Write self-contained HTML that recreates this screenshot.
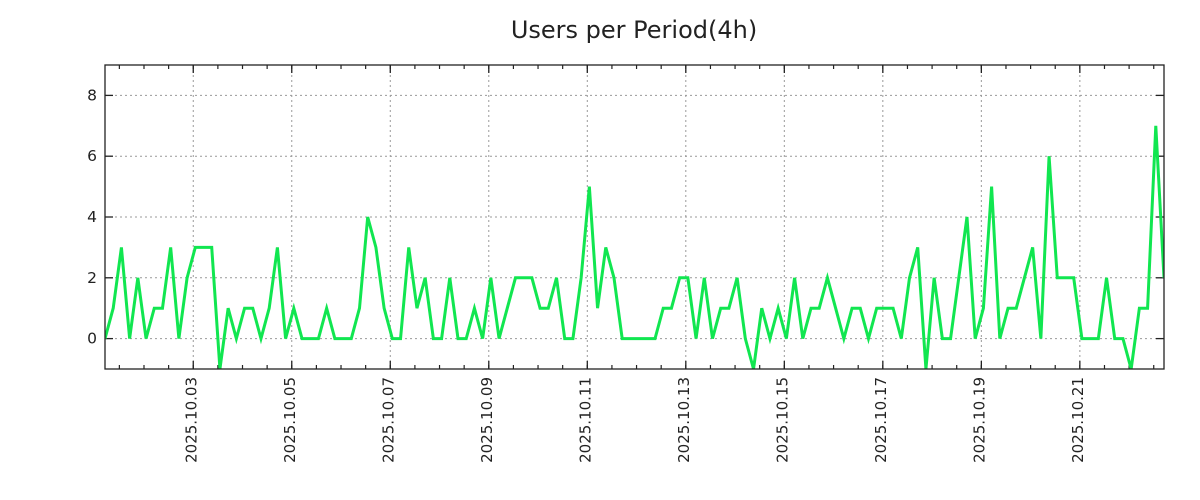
<!DOCTYPE html>
<html><head><meta charset="utf-8"><style>
html,body{margin:0;padding:0;background:#fff;}
svg{display:block;font-family:"DejaVu Sans","Liberation Sans",sans-serif;}
</style></head><body>
<svg id="chart" width="1200" height="500" viewBox="0 0 1200 500" xmlns="http://www.w3.org/2000/svg">
<rect width="1200" height="500" fill="#fff"/>
<text x="634" y="38" text-anchor="middle" font-size="24" fill="#222">Users per Period(4h)</text>
<g id="grid"></g>
<g id="axes"></g>
<g id="series"></g>
<rect x="105" y="65" width="1059" height="304" fill="none" stroke="#222" stroke-width="1.3"/>
</svg>
<script>
// values every 4 hours, first point = 2025-10-01 05:00 (hours offset 0)
const userCounts = [0,1,3,0,2,0,1,1,3,0,2,3,3,3,-1,1,0,1,1,0,1,3,0,1,0,0,0,1,0,0,0,1,4,3,1,0,0,3,1,2,0,0,2,0,0,1,0,2,0,1,2,2,2,1,1,2,0,0,2,5,1,3,2,0,0,0,0,0,1,1,2,2,0,2,0,1,1,2,0,-1,1,0,1,0,2,0,1,1,2,1,0,1,1,0,1,1,1,0,2,3,-1,2,0,0,2,4,0,1,5,0,1,1,2,3,0,6,2,2,2,0,0,0,2,0,0,-1,1,1,7,2];
const stepHours = 4;
const yTicks = [0,2,4,6,8];
const xTickLabels = ["2025.10.03","2025.10.05","2025.10.07","2025.10.09","2025.10.11","2025.10.13","2025.10.15","2025.10.17","2025.10.19","2025.10.21"];
const xTickHours = [43,91,139,187,235,283,331,379,427,475];
const yMin = -1, yMax = 9;

const NS = "http://www.w3.org/2000/svg";
const L = 105, R = 1164, T = 65, B = 369;
const totalHours = (userCounts.length - 1) * stepHours;
const xs = h => L + (h / totalHours) * (R - L);
const ys = v => B - (v - yMin) / (yMax - yMin) * (B - T);
function mk(tag, attrs, parent){const e=document.createElementNS(NS,tag);for(const k in attrs)e.setAttribute(k,attrs[k]);parent.appendChild(e);return e;}
const grid=document.getElementById('grid'), axes=document.getElementById('axes'), series=document.getElementById('series');

yTicks.forEach(v=>{
  const y=ys(v);
  const g=mk('line',{x1:L,x2:R,y1:y,y2:y,stroke:'#999','stroke-width':1,'stroke-dasharray':'2,3'},grid);
  
  
  const t1=mk('line',{x1:L,x2:L+8,y1:y,y2:y,stroke:'#222','stroke-width':1.3},axes);
  
  
  const t2=mk('line',{x1:R-8,x2:R,y1:y,y2:y,stroke:'#222','stroke-width':1.3},axes);
  
  
  const lb=mk('text',{x:97,y:y+5,'text-anchor':'end','font-size':15.5,fill:'#222'},axes);
  lb.textContent=v;
  
  
});

for(let h=xTickHours[0]%12; h<=totalHours; h+=12){
  const x=xs(h);
  const m1=mk('line',{x1:x,x2:x,y1:B,y2:B-4,stroke:'#222','stroke-width':1.2},axes);
  
  
  const m2=mk('line',{x1:x,x2:x,y1:T,y2:T+4,stroke:'#222','stroke-width':1.2},axes);
  
  
}
xTickHours.forEach((h,i)=>{
  const x=xs(h);
  const g=mk('line',{x1:x,x2:x,y1:T,y2:B,stroke:'#999','stroke-width':1,'stroke-dasharray':'2,3'},grid);
  
  
  const t=mk('line',{x1:x,x2:x,y1:B,y2:B-8,stroke:'#222','stroke-width':1.3},axes);
  
  
  const t2=mk('line',{x1:x,x2:x,y1:T,y2:T+8,stroke:'#222','stroke-width':1.3},axes);
  
  
  const lb=mk('text',{transform:`translate(${x+3},377) rotate(-90)`,'text-anchor':'end','font-size':15,fill:'#222'},axes);
  lb.textContent=xTickLabels[i];
  
  
});

const pts=userCounts.map((v,i)=>xs(i*stepHours).toFixed(2)+','+ys(v).toFixed(2)).join(' ');
const cp=mk('clipPath',{id:'plotclip'},series);
mk('rect',{x:L,y:T,width:R-L,height:B-T},cp);
const line=mk('polyline',{points:pts,fill:'none',stroke:'#11e650','stroke-width':3,'stroke-linejoin':'miter','clip-path':'url(#plotclip)'},series);


</script>
</body></html>
